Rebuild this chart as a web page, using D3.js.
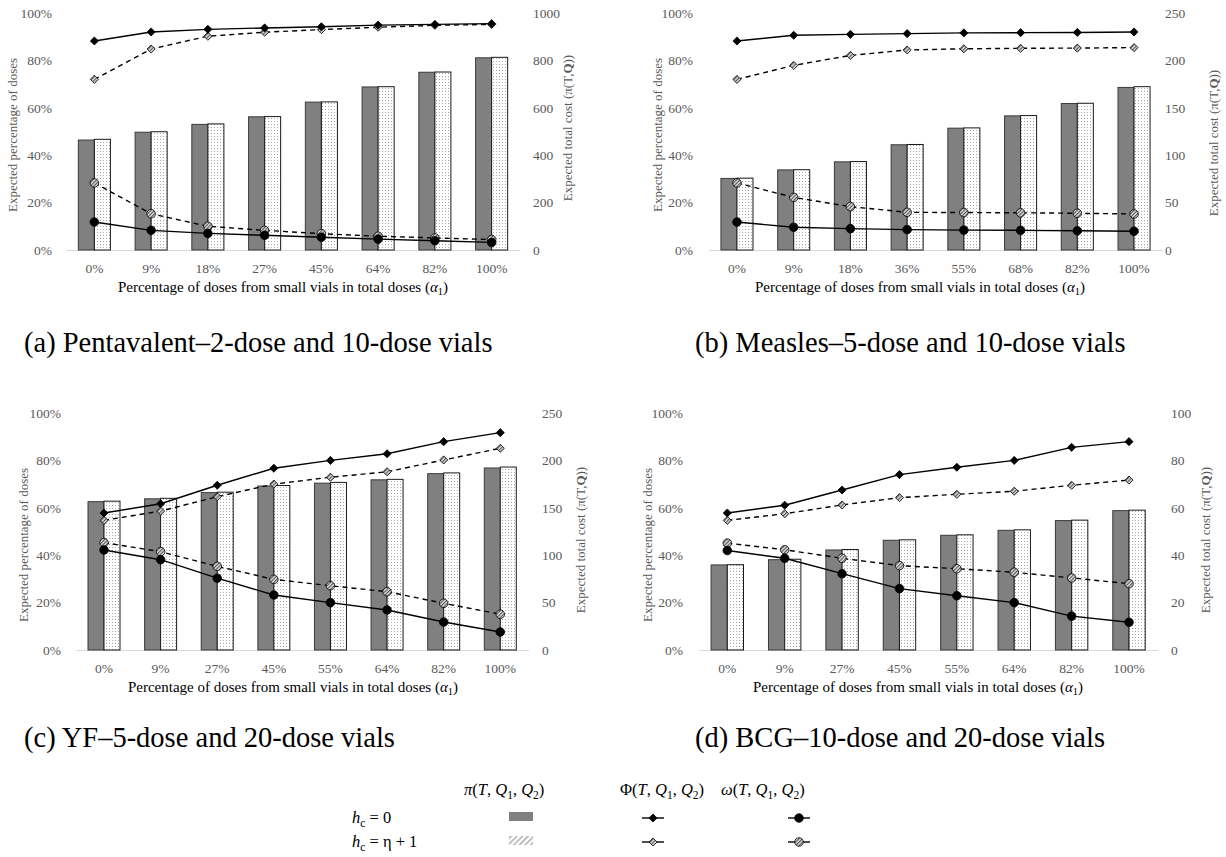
<!DOCTYPE html>
<html>
<head>
<meta charset="utf-8">
<script src="https://cdnjs.cloudflare.com/ajax/libs/d3/7.8.5/d3.min.js"></script>
<style>
    body { margin: 0; background: #fff; }
    svg { display: block; }
    svg text { font-family: 'Liberation Serif', 'DejaVu Serif', serif; }
</style>
</head>
<body>
<div id="chart"></div>
<script>
//categories (share of small vials) per panel
var catsA = ['0%', '9%', '18%', '27%', '45%', '64%', '82%', '100%'];
var catsB = ['0%', '9%', '18%', '36%', '55%', '68%', '82%', '100%'];
var catsC = ['0%', '9%', '27%', '45%', '55%', '64%', '82%', '100%'];
var catsD = ['0%', '9%', '27%', '45%', '55%', '64%', '82%', '100%'];

//expected total cost pi (right axis), hc = 0 and hc = eta + 1
var costA0 = [464, 497, 530, 562, 624, 688, 750, 811];
var costA1 = [467, 499, 532, 563, 625, 689, 751, 813];
var costB0 = [75.5, 84.5, 93, 111, 128.5, 141.5, 154.5, 171.5];
var costB1 = [75.8, 84.7, 93.3, 111.3, 128.8, 141.8, 154.8, 172.3];
var costC0 = [156.5, 159.5, 166, 173, 176, 179.5, 186, 192];
var costC1 = [157, 160, 166.5, 173.5, 176.8, 180, 186.8, 193];
var costD0 = [35.9, 38.1, 42.2, 46.3, 48.4, 50.5, 54.6, 58.8];
var costD1 = [36.0, 38.3, 42.4, 46.5, 48.6, 50.7, 54.8, 59.0];

//expected percentage of doses Phi (left axis)
var phiA0 = [88.2, 92.0, 93.1, 93.7, 94.2, 94.9, 95.2, 95.5];
var phiA1 = [72.0, 84.8, 90.2, 91.9, 93.0, 94.0, 94.8, 95.2];
var phiB0 = [88.2, 90.6, 91.0, 91.3, 91.6, 91.7, 91.8, 92.0];
var phiB1 = [72.0, 77.9, 82.1, 84.4, 84.9, 85.1, 85.2, 85.4];
var phiC0 = [57.8, 61.7, 69.5, 76.7, 80.0, 82.8, 87.9, 91.7];
var phiC1 = [54.7, 58.6, 64.7, 70.0, 72.9, 75.2, 80.2, 85.1];
var phiD0 = [57.8, 61.1, 67.5, 74.0, 77.1, 80.0, 85.5, 87.9];
var phiD1 = [54.7, 57.5, 61.2, 64.3, 65.7, 67.0, 69.5, 71.7];

//expected percentage of doses omega (left axis)
var omegaA0 = [11.8, 8.3, 7.0, 6.2, 5.4, 4.6, 3.9, 3.2];
var omegaA1 = [28.3, 15.3, 10.0, 8.3, 6.9, 5.8, 5.1, 4.4];
var omegaB0 = [11.8, 9.6, 9.0, 8.6, 8.4, 8.3, 8.1, 7.9];
var omegaB1 = [28.3, 22.2, 18.3, 15.9, 15.8, 15.7, 15.5, 15.2];
var omegaC0 = [42.2, 38.1, 30.3, 23.2, 20.0, 16.9, 11.8, 7.6];
var omegaC1 = [45.3, 41.5, 35.3, 29.8, 27.1, 24.6, 19.7, 15.1];
var omegaD0 = [42.0, 38.7, 32.2, 25.9, 22.9, 20.0, 14.3, 11.7];
var omegaD1 = [45.1, 42.3, 38.7, 35.6, 34.3, 32.8, 30.4, 28.0];

//axis ticks
var leftTicks = [0, 20, 40, 60, 80, 100];
var rightTicksA = [0, 200, 400, 600, 800, 1000];
var rightTicksB = [0, 50, 100, 150, 200, 250];
var rightTicksC = [0, 50, 100, 150, 200, 250];
var rightTicksD = [0, 20, 40, 60, 80, 100];

//captions
var captions = [
    '(a) Pentavalent\u20132-dose and 10-dose vials',
    '(b) Measles\u20135-dose and 10-dose vials',
    '(c) YF\u20135-dose and 20-dose vials',
    '(d) BCG\u201310-dose and 20-dose vials'
];

var width = 1226, height = 857;
var grey = '#595959';

var svg = d3.select('#chart').append('svg')
    .attr('width', width)
    .attr('height', height);

//patterns for the bars and the hc = eta + 1 markers
var defs = svg.append('defs');
var dots = defs.append('pattern').attr('id', 'dots')
    .attr('patternUnits', 'userSpaceOnUse').attr('width', 3).attr('height', 3);
dots.append('rect').attr('width', 3).attr('height', 3).attr('fill', '#fff');
dots.append('rect').attr('x', 1).attr('y', 1).attr('width', 1).attr('height', 1).attr('fill', '#a8a8a8');

var hatch = defs.append('pattern').attr('id', 'hatch')
    .attr('patternUnits', 'userSpaceOnUse').attr('width', 2.5).attr('height', 2.5)
    .attr('patternTransform', 'rotate(45)');
hatch.append('rect').attr('width', 2.5).attr('height', 2.5).attr('fill', '#d8d8d8');
hatch.append('rect').attr('width', 1).attr('height', 2.5).attr('fill', '#505050');

var stripes = defs.append('pattern').attr('id', 'stripes')
    .attr('patternUnits', 'userSpaceOnUse').attr('width', 4).attr('height', 4)
    .attr('patternTransform', 'rotate(45)');
stripes.append('rect').attr('width', 4).attr('height', 4).attr('fill', '#fff');
stripes.append('rect').attr('width', 1.4).attr('height', 4).attr('fill', '#a8a8a8');

var diamond = d3.symbol().type(d3.symbolDiamond2).size(42);

//draws one panel of the figure
function drawPanel(p) {
    var g = svg.append('g');
    var top = p.base - 237;

    var x = d3.scaleBand().domain(p.cats).range([p.x0, p.x1])
        .paddingInner(0.435).paddingOuter(0.2175);
    var xSub = d3.scaleBand().domain([0, 1]).range([0, x.bandwidth()]);
    var yL = d3.scaleLinear().domain([0, 100]).range([p.base, top]);
    var yR = d3.scaleLinear().domain([0, p.rightMax]).range([p.base, top]);
    var cx = function (i) { return x(p.cats[i]) + x.bandwidth() / 2; };

    //x axis (light baseline + category labels)
    var xAxis = g.append('g').attr('transform', 'translate(0,' + p.base + ')')
        .call(d3.axisBottom(x).tickSize(0).tickSizeOuter(0).tickPadding(13));
    xAxis.attr('font-family', null);
    xAxis.select('.domain').attr('stroke', '#d9d9d9');
    xAxis.selectAll('text').attr('font-size', 13.5).attr('fill', grey);

    //left axis (percent)
    var lAxis = g.append('g').attr('transform', 'translate(' + p.leftLabelX + ',0)')
        .call(d3.axisLeft(yL).tickValues(leftTicks).tickSize(0).tickPadding(0)
            .tickFormat(function (d) { return d + '%'; }));
    lAxis.attr('font-family', null);
    lAxis.select('.domain').remove();
    lAxis.selectAll('text').attr('font-size', 13.5).attr('fill', grey);

    //right axis (cost)
    var rAxis = g.append('g').attr('transform', 'translate(' + p.rightLabelX + ',0)')
        .call(d3.axisRight(yR).tickValues(p.rightTicks).tickSize(0).tickPadding(0)
            .tickFormat(d3.format('d')));
    rAxis.attr('font-family', null);
    rAxis.select('.domain').remove();
    rAxis.selectAll('text').attr('font-size', 13.5).attr('fill', grey);

    //axis titles
    g.append('text')
        .attr('transform', 'translate(' + p.leftTitleX + ',' + p.leftTitleY + ') rotate(-90)')
        .attr('text-anchor', 'middle').attr('dominant-baseline', 'central')
        .attr('font-size', 13).attr('fill', grey)
        .text('Expected percentage of doses');

    var rt = g.append('text')
        .attr('transform', 'translate(' + p.rightTitleX + ',' + p.rightTitleY + ') rotate(-90)')
        .attr('text-anchor', 'middle').attr('dominant-baseline', 'central')
        .attr('font-size', 13).attr('fill', grey);
    rt.append('tspan').text('Expected total cost (\u03c0(T,');
    rt.append('tspan').attr('font-weight', 'bold').text('Q');
    rt.append('tspan').text('))');

    var xt = g.append('text')
        .attr('x', p.xTitleX).attr('y', p.base + 42)
        .attr('text-anchor', 'middle')
        .attr('font-size', 15).attr('fill', '#000');
    xt.append('tspan').text('Percentage of doses from small vials in total doses (');
    xt.append('tspan').attr('font-style', 'italic').text('\u03b1');
    xt.append('tspan').attr('font-size', 10.5).attr('dy', 3).text('1');
    xt.append('tspan').attr('dy', -3).text(')');

    //bars: dark for hc = 0, dotted for hc = eta + 1
    var bars = g.append('g');
    [p.cost0, p.cost1].forEach(function (series, k) {
        bars.selectAll('rect.s' + k)
            .data(series)
            .enter()
            .append('rect')
            .attr('class', 's' + k)
            .attr('x', function (d, i) { return x(p.cats[i]) + xSub(k); })
            .attr('y', function (d) { return yR(d); })
            .attr('width', xSub.bandwidth())
            .attr('height', function (d) { return p.base - yR(d); })
            .attr('fill', k == 0 ? '#808080' : 'url(#dots)')
            .attr('stroke', k == 0 ? '#3a3a3a' : '#1a1a1a')
            .attr('stroke-width', 1);
    });

    //lines with markers
    var line = d3.line()
        .x(function (d, i) { return cx(i); })
        .y(function (d) { return yL(d); });

    var series = [
        { v: p.phi1, dash: '5,4', shape: 'diamond', fill: 'url(#hatch)' },
        { v: p.omega1, dash: '5,4', shape: 'circle', fill: 'url(#hatch)' },
        { v: p.phi0, dash: null, shape: 'diamond', fill: '#000' },
        { v: p.omega0, dash: null, shape: 'circle', fill: '#000' }
    ];
    series.forEach(function (s) {
        g.append('path')
            .datum(s.v)
            .attr('d', line)
            .attr('fill', 'none')
            .attr('stroke', '#000')
            .attr('stroke-width', 1.4)
            .attr('stroke-dasharray', s.dash);

        var m = g.append('g').selectAll('.m')
            .data(s.v)
            .enter();
        if (s.shape == 'circle') {
            m.append('circle')
                .attr('cx', function (d, i) { return cx(i); })
                .attr('cy', function (d) { return yL(d); })
                .attr('r', 4.3)
                .attr('fill', s.fill)
                .attr('stroke', '#000')
                .attr('stroke-width', 0.8);
        } else {
            m.append('path')
                .attr('d', diamond)
                .attr('transform', function (d, i) { return 'translate(' + cx(i) + ',' + yL(d) + ')'; })
                .attr('fill', s.fill)
                .attr('stroke', '#000')
                .attr('stroke-width', 0.8);
        }
    });

    //caption under the panel
    svg.append('text')
        .attr('x', p.capX).attr('y', p.capY)
        .attr('font-size', 28.5)
        .attr('fill', '#000')
        .text(p.caption);
}

drawPanel({
    cats: catsA, cost0: costA0, cost1: costA1, phi0: phiA0, phi1: phiA1, omega0: omegaA0, omega1: omegaA1,
    rightMax: 1000, rightTicks: rightTicksA, caption: captions[0],
    x0: 66, x1: 520, base: 250, leftLabelX: 52, rightLabelX: 533,
    leftTitleX: 12, leftTitleY: 135, rightTitleX: 567, rightTitleY: 128, xTitleX: 283, capX: 24, capY: 352
});
drawPanel({
    cats: catsB, cost0: costB0, cost1: costB1, phi0: phiB0, phi1: phiB1, omega0: omegaB0, omega1: omegaB1,
    rightMax: 250, rightTicks: rightTicksB, caption: captions[1],
    x0: 708.6, x1: 1162.4, base: 250, leftLabelX: 693, rightLabelX: 1165,
    leftTitleX: 657, leftTitleY: 135, rightTitleX: 1213, rightTitleY: 143, xTitleX: 920, capX: 695, capY: 352
});
drawPanel({
    cats: catsC, cost0: costC0, cost1: costC1, phi0: phiC0, phi1: phiC1, omega0: omegaC0, omega1: omegaC1,
    rightMax: 250, rightTicks: rightTicksC, caption: captions[2],
    x0: 75.7, x1: 528.6, base: 650, leftLabelX: 61, rightLabelX: 542,
    leftTitleX: 23, leftTitleY: 545, rightTitleX: 580, rightTitleY: 540, xTitleX: 293, capX: 24, capY: 747
});
drawPanel({
    cats: catsD, cost0: costD0, cost1: costD1, phi0: phiD0, phi1: phiD1, omega0: omegaD0, omega1: omegaD1,
    rightMax: 100, rightTicks: rightTicksD, caption: captions[3],
    x0: 698.6, x1: 1157.7, base: 650, leftLabelX: 683, rightLabelX: 1171,
    leftTitleX: 647, leftTitleY: 545, rightTitleX: 1205, rightTitleY: 540, xTitleX: 918, capX: 695, capY: 747
});

//shared legend at the bottom
var legend = svg.append('g').attr('font-size', 16.5).attr('fill', '#000');

function mathText(x, y, parts) {
    var t = legend.append('text').attr('x', x).attr('y', y);
    var shift = 0;
    parts.forEach(function (p) {
        var s = t.append('tspan').text(p[0]);
        if (p[1] == 'i') s.attr('font-style', 'italic');
        if (p[1] == 'sub') {
            s.attr('font-size', 11.5).attr('dy', 4 - shift);
            shift = 4;
        } else if (shift) {
            s.attr('dy', -shift);
            shift = 0;
        }
    });
}

var qArgs = [['(', ''], ['T', 'i'], [', ', ''], ['Q', 'i'], ['1', 'sub'], [', ', ''], ['Q', 'i'], ['2', 'sub'], [')', '']];
mathText(464, 795, [['\u03c0', 'i']].concat(qArgs));
mathText(620, 795, [['\u03a6', '']].concat(qArgs));
mathText(721, 795, [['\u03c9', 'i']].concat(qArgs));
mathText(352, 823, [['h', 'i'], ['c', 'sub'], [' = 0', '']]);
mathText(352, 847, [['h', 'i'], ['c', 'sub'], [' = \u03b7 + 1', '']]);

legend.append('rect').attr('x', 509).attr('y', 812).attr('width', 24).attr('height', 9).attr('fill', '#808080');
legend.append('rect').attr('x', 509).attr('y', 836).attr('width', 24).attr('height', 9).attr('fill', 'url(#stripes)');

[[653, 818, 'diamond', '#000'], [653, 842, 'diamond', 'url(#hatch)'],
 [799, 818, 'circle', '#000'], [799, 842, 'circle', 'url(#hatch)']].forEach(function (m) {
    legend.append('line')
        .attr('x1', m[0] - 11).attr('x2', m[0] + 11)
        .attr('y1', m[1]).attr('y2', m[1])
        .attr('stroke', '#000').attr('stroke-width', 1.4);
    if (m[2] == 'circle') {
        legend.append('circle').attr('cx', m[0]).attr('cy', m[1]).attr('r', 4.3)
            .attr('fill', m[3]).attr('stroke', '#000').attr('stroke-width', 0.8);
    } else {
        legend.append('path').attr('d', diamond)
            .attr('transform', 'translate(' + m[0] + ',' + m[1] + ')')
            .attr('fill', m[3]).attr('stroke', '#000').attr('stroke-width', 0.8);
    }
});
</script>
</body>
</html>
